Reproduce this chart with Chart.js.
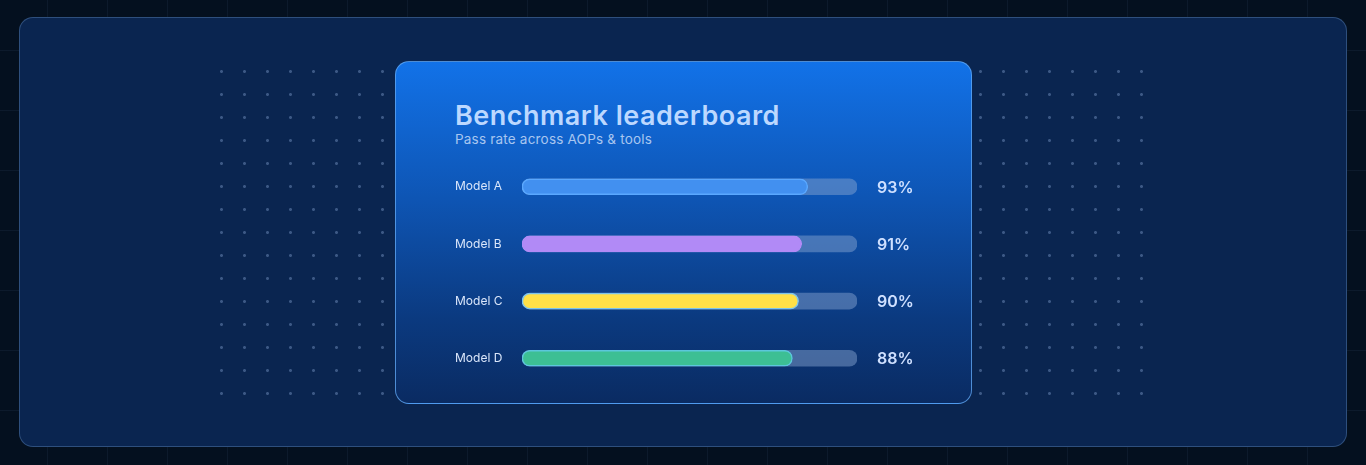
<!DOCTYPE html>
<html>
<head>
<meta charset="utf-8">
<script src="https://cdn.jsdelivr.net/npm/chart.js@4.4.1/dist/chart.umd.min.js"></script>
<style>
    html, body { margin: 0; padding: 0; }
    body {
        width: 1366px; height: 465px; overflow: hidden; position: relative;
        background-color: #04101f;
        background-image:
            linear-gradient(rgba(70, 100, 140, 0.12) 1px, transparent 1px),
            linear-gradient(90deg, rgba(70, 100, 140, 0.12) 1px, transparent 1px);
        background-size: 60px 60px;
        background-position: -13px -10px;
        font-family: Inter, "Noto Sans", sans-serif;
    }
    .panel {
        position: absolute; left: 19px; top: 17px; width: 1326px; height: 428px;
        background: #0a2550; border: 1px solid rgba(90, 130, 180, 0.45); border-radius: 14px;
    }
    .dots {
        position: absolute; left: 210px; top: 60px; width: 943px; height: 345px;
        background-image: radial-gradient(circle, rgba(110, 140, 185, 0.5) 1.2px, transparent 1.7px);
        background-size: 23px 23px;
        background-position: 0 0;
    }
    .card {
        position: absolute; left: 395px; top: 61px; width: 575px; height: 341px;
        border-radius: 14px; border: 1.5px solid rgba(95, 165, 240, 0.8);
        background: linear-gradient(180deg, #1272e8 0%, #0e55b4 40%, #0b3a80 75%, #0a2b62 100%);
    }
    .title {
        position: absolute; left: 455px; top: 99px; margin: 0;
        font-size: 27px; font-weight: 600; color: #bcd8ff; letter-spacing: 0.5px;
    }
    .subtitle {
        position: absolute; left: 455px; top: 131px; margin: 0;
        font-size: 13.5px; color: #a8c6f0; letter-spacing: 0.2px;
    }
    #wrap { position: absolute; left: 455px; top: 151px; width: 505px; height: 243px; }
</style>
</head>
<body>
<div class="panel"></div>
<div class="dots"></div>
<div class="card"></div>
<h1 class="title">Benchmark leaderboard</h1>
<p class="subtitle">Pass rate across AOPs &amp; tools</p>
<div id="wrap"><canvas id="leaderboard"></canvas></div>

<script>
// Chart data
const models = ['Model A', 'Model B', 'Model C', 'Model D'];
const passRates = [93, 91, 90, 88];
const trackMax = 109;

const barColors = ['#4290f0', '#b18af6', '#ffe047', '#3dbf94'];
const barBorders = ['#5aa8ff', '#b18af6', '#7cc4ec', '#5cc6dc'];

// Value labels to the right of each track
const valueLabels = {
    id: 'valueLabels',
    afterDatasetsDraw(chart) {
        const { ctx, chartArea } = chart;
        const meta = chart.getDatasetMeta(0);
        ctx.save();
        ctx.font = '600 16px Inter, sans-serif';
        ctx.fillStyle = '#cfe0ff';
        ctx.textBaseline = 'middle';
        meta.data.forEach((bar, i) => {
            ctx.fillText(passRates[i] + '%', chartArea.right + 20, bar.y + 1);
        });
        ctx.restore();
    }
};

new Chart(document.getElementById('leaderboard'), {
    type: 'bar',
    data: {
        labels: models,
        datasets: [
            {
                label: 'Pass rate',
                data: passRates,
                backgroundColor: barColors,
                borderColor: barBorders,
                borderWidth: 1.5,
                borderRadius: 8,
                borderSkipped: false,
                barThickness: 16,
                grouped: false
            },
            {
                label: 'Track',
                data: models.map(() => trackMax),
                backgroundColor: 'rgba(135, 165, 210, 0.48)',
                borderWidth: 0,
                borderRadius: 8,
                borderSkipped: false,
                barThickness: 16,
                grouped: false
            }
        ]
    },
    options: {
        indexAxis: 'y',
        responsive: true,
        maintainAspectRatio: false,
        animation: false,
        layout: { padding: { left: 0, right: 103, top: 0, bottom: 0 } },
        plugins: {
            legend: { display: false },
            tooltip: { enabled: false }
        },
        scales: {
            x: { display: false, min: 0, max: trackMax },
            y: {
                grid: { display: false },
                border: { display: false },
                afterFit(scale) { scale.width = 67; },
                ticks: {
                    crossAlign: 'far',
                    padding: 0,
                    color: '#dbe7fb',
                    font: { family: 'Inter', size: 12 }
                }
            }
        }
    },
    plugins: [valueLabels]
});
</script>
</body>
</html>
